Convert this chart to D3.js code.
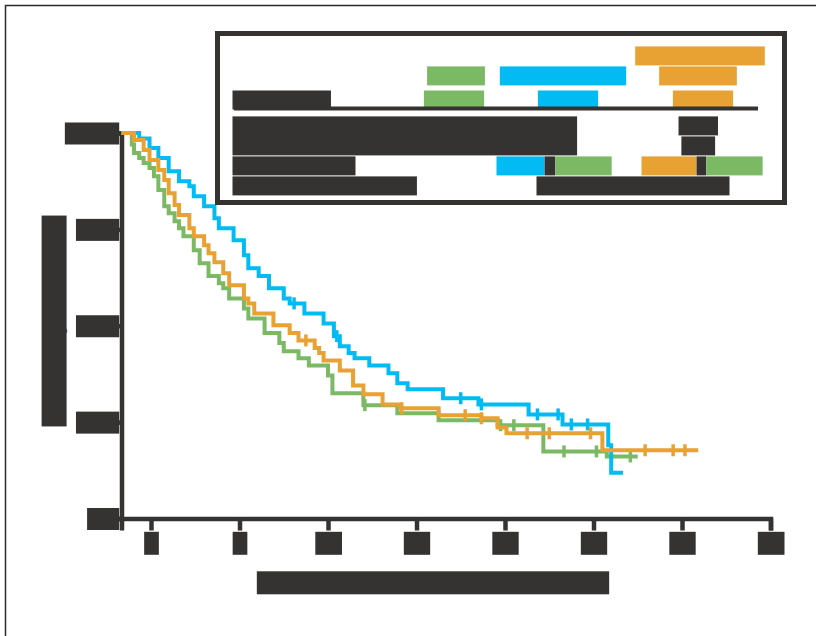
<!DOCTYPE html>
<html>
<head>
<meta charset="utf-8">
<script src="https://cdn.jsdelivr.net/npm/d3@7"></script>
<style>
  html, body { margin: 0; padding: 0; background: #fff; }
  svg { display: block; font-family: "Liberation Sans", Arial, sans-serif; }
</style>
</head>
<body>
<script>
// CADRE
const largeur = 816;
const hauteur = 636;
const encre = "#343331";
const vert = "#7bb965", bleu = "#02bbf2", orange = "#e8a234";

// DONNEES (mois, survie)
const bleuTemps = [0, 1.2, 1.9, 2.5, 3.2, 3.9, 4.6, 4.9, 5.6, 6.3, 6.6, 7.6, 8.3, 8.6, 9.3, 10.0, 11.0, 11.4, 12.4, 13.7, 14.4, 14.8, 15.4, 15.8, 16.8, 18.1, 18.7, 19.4, 21.8, 24.2, 27.6, 29.9, 33.0, 33.2];
const bleuSurvie = [1, 0.986, 0.961, 0.935, 0.901, 0.875, 0.862, 0.836, 0.810, 0.779, 0.753, 0.722, 0.683, 0.649, 0.629, 0.597, 0.571, 0.558, 0.532, 0.506, 0.473, 0.447, 0.429, 0.416, 0.397, 0.377, 0.351, 0.335, 0.312, 0.296, 0.270, 0.244, 0.190, 0.119];
const bleuFin = 34.0;
const bleuCensure = [11.7, 14.6, 23.0, 24.4, 28.2, 29.6, 30.5, 31.6];

const orangeTemps = [0, 0.85, 1.5, 1.9, 2.5, 2.9, 3.2, 3.6, 3.9, 4.6, 4.9, 5.6, 5.9, 6.3, 6.9, 7.3, 8.3, 8.6, 9.0, 10.3, 11.4, 12.0, 13.1, 13.4, 13.7, 14.8, 15.7, 16.4, 17.7, 18.9, 21.5, 24.4, 25.5, 26.1, 32.6];
const orangeSurvie = [1, 0.982, 0.956, 0.930, 0.904, 0.878, 0.844, 0.813, 0.787, 0.753, 0.732, 0.709, 0.688, 0.665, 0.636, 0.605, 0.571, 0.558, 0.532, 0.501, 0.481, 0.462, 0.442, 0.429, 0.410, 0.384, 0.345, 0.322, 0.296, 0.286, 0.268, 0.260, 0.236, 0.221, 0.177];
const orangeFin = 39.1;
const orangeCensure = [12.5, 19.0, 23.3, 24.4, 27.5, 29.0, 31.8, 35.5, 37.4, 38.2];

const vertTemps = [0, 0.7, 0.85, 1.2, 1.5, 1.9, 2.2, 2.5, 2.9, 3.2, 3.6, 3.9, 4.2, 4.9, 5.3, 5.9, 6.6, 6.9, 7.3, 8.3, 8.6, 9.7, 10.7, 11.0, 12.0, 12.7, 14.0, 14.3, 16.4, 18.7, 21.5, 25.5, 28.6, 32.9];
const vertSurvie = [1, 0.97, 0.948, 0.935, 0.922, 0.909, 0.888, 0.852, 0.810, 0.792, 0.771, 0.753, 0.732, 0.696, 0.662, 0.629, 0.610, 0.597, 0.571, 0.545, 0.519, 0.481, 0.455, 0.434, 0.416, 0.397, 0.371, 0.325, 0.294, 0.273, 0.255, 0.242, 0.174, 0.161];
const vertFin = 35.0;
const vertCensure = [16.5, 25.7, 26.6, 30.0, 32.2, 34.5];

// axes
const graduationsX = [2, 8, 14, 20, 26, 32, 38, 44];
const graduationsY = [0, 0.25, 0.5, 0.75, 1];
const titreX = "Time since randomisation (in months)";
const titreY = "Probability of survival";

// tableau de la légende
const enteteVert = ["Control"];
const enteteBleu = ["Drug A + Drug B"];
const enteteOrange = ["Switch to Drug B", "at relapse"];
const effectifs = ["n = 312", "n = 298", "n = 305"];
const ligneEffectif = "Randomised";
const note = ["Kaplan\u2013Meier estimates of overall survival by", "treatment arm, intention-to-treat population"];
const noteDroite = ["Data", "lock"];
const ligneComparaison = "Arms compared";
const comparaisons = [["A + B", "Control"], ["Switch", "Control"]];
const ligneTest = "Log-rank test, two-sided";
const valeurTest = "p < 0.0001 and p = 0.412";

//Le fond
const svg = d3.select("body")
  .append("svg")
  .attr("width", largeur)
  .attr("height", hauteur);

svg.append("rect")
  .attr("x", 5.5).attr("y", 5.5)
  .attr("width", largeur + 20).attr("height", hauteur + 20)
  .attr("fill", "#fff")
  .attr("stroke", "#2b2b2b")
  .attr("stroke-width", 1.5);

// échelles
const x = d3.scaleLinear().domain([0, 44]).range([121.5, 770.5]);
const y = d3.scaleLinear().domain([0, 1]).range([518.5, 133]);

// axe X
const axeX = svg.append("g")
  .attr("transform", `translate(0,${y(0)})`)
  .style("color", encre)
  .call(d3.axisBottom(x).tickValues(graduationsX).tickSize(12).tickSizeOuter(12).tickFormat(d3.format("d")));
axeX.selectAll("path, line").attr("stroke-width", 4.5);
axeX.selectAll("text")
  .attr("class", "bloc")
  .attr("y", 32.3).attr("dy", null)
  .attr("fill", encre)
  .style("font-size", "21px");

// axe Y
const axeY = svg.append("g")
  .attr("transform", `translate(${x(0)},0)`)
  .style("color", encre)
  .call(d3.axisLeft(y).tickValues(graduationsY).tickSize(6).tickSizeOuter(6).tickFormat(d3.format(".0%")));
axeY.selectAll("path, line").attr("stroke-width", 4.5);
axeY.selectAll("text")
  .attr("class", "bloc")
  .attr("x", -4).attr("dy", "0.35em")
  .attr("fill", encre)
  .style("font-size", "20px");

// titres
svg.append("text")
  .attr("class", "bloc")
  .attr("x", 433).attr("y", 590.3)
  .attr("text-anchor", "middle")
  .attr("fill", encre)
  .style("font-size", "21px")
  .text(titreX);

svg.append("text")
  .attr("class", "bloc")
  .attr("transform", "translate(61.6,321) rotate(-90)")
  .attr("text-anchor", "middle")
  .attr("fill", encre)
  .style("font-size", "22px")
  .text(titreY);

// Les courbes
const ligne = d3.line()
  .x(d => x(d[0]))
  .y(d => y(d[1]))
  .curve(d3.curveStepAfter);

const series = [
  { couleur: vert, temps: vertTemps, survie: vertSurvie, fin: vertFin, censure: vertCensure },
  { couleur: bleu, temps: bleuTemps, survie: bleuSurvie, fin: bleuFin, censure: bleuCensure },
  { couleur: orange, temps: orangeTemps, survie: orangeSurvie, fin: orangeFin, censure: orangeCensure }
];

series.forEach(s => {
  const points = s.temps.map((t, i) => [t, s.survie[i]]);
  points.push([s.fin, s.survie[s.survie.length - 1]]);
  const g = svg.append("g");
  g.append("path")
    .attr("d", ligne(points))
    .attr("fill", "none")
    .attr("stroke", s.couleur)
    .attr("stroke-width", 4);
  // marques de censure
  const survieA = t => s.survie[d3.bisectRight(s.temps, t) - 1];
  g.selectAll("line")
    .data(s.censure)
    .join("line")
    .attr("x1", d => x(d)).attr("x2", d => x(d))
    .attr("y1", d => y(survieA(d)) - 6)
    .attr("y2", d => y(survieA(d)) + 6)
    .attr("stroke", s.couleur)
    .attr("stroke-width", 3.5);
});

// Légende
const leg = svg.append("g");
leg.append("rect")
  .attr("x", 217.5).attr("y", 33.5)
  .attr("width", 567).attr("height", 169)
  .attr("fill", "#fff")
  .attr("stroke", encre)
  .attr("stroke-width", 5);

function texte(parent, x0, y0, contenu, couleur, ancre) {
  return parent.append("text")
    .attr("class", "bloc")
    .attr("x", x0).attr("y", y0)
    .attr("text-anchor", ancre || "start")
    .attr("fill", couleur)
    .style("font-size", "17px")
    .text(contenu);
}

texte(leg, 456, 81.4, enteteVert[0], vert, "middle");
texte(leg, 563, 81.4, enteteBleu[0], bleu, "middle");
texte(leg, 700, 61.4, enteteOrange[0], orange, "middle");
texte(leg, 698, 81.4, enteteOrange[1], orange, "middle");

texte(leg, 234, 105.5, ligneEffectif, encre);
texte(leg, 454, 105.5, effectifs[0], vert, "middle");
texte(leg, 568, 105.5, effectifs[1], bleu, "middle");
texte(leg, 703, 105.5, effectifs[2], orange, "middle");

leg.append("line")
  .attr("x1", 234).attr("x2", 758)
  .attr("y1", 108.5).attr("y2", 108.5)
  .attr("stroke", encre)
  .attr("stroke-width", 4);

const bloc = leg.append("text")
  .attr("class", "bloc")
  .attr("fill", encre)
  .style("font-size", "17px");
note.forEach((l, i) => bloc.append("tspan").attr("x", 234).attr("y", 131.4 + i * 20).text(l));
noteDroite.forEach((l, i) => texte(leg, 698, 131.4 + i * 20, l, encre, "middle"));

texte(leg, 234, 171.4, ligneComparaison, encre);

// comparaisons en couleur : morceaux accolés, chacun avec son fond
function enLigne(x0, y0, morceaux, ecarts) {
  let curseur = x0;
  const noeuds = morceaux.map((m, i) => {
    const t = leg.append("text")
      .attr("x", curseur).attr("y", y0)
      .attr("fill", m[1])
      .style("font-size", "17px")
      .text(m[0]);
    const debut = curseur;
    curseur += t.node().getComputedTextLength() + (ecarts[i] || 0);
    return { t, debut, fin: i < morceaux.length - 1 ? curseur : curseur + 1.5 };
  });
  noeuds.forEach(n => {
    const b = n.t.node().getBBox();
    leg.insert("rect", () => n.t.node())
      .attr("x", n.debut - 1.5).attr("y", b.y)
      .attr("width", n.fin - n.debut).attr("height", b.height)
      .attr("fill", n.t.attr("fill"));
  });
}
enLigne(498, 171.4, [[comparaisons[0][0], bleu], ["/", encre], [comparaisons[0][1], vert]], [7, 6]);
enLigne(643, 171.4, [[comparaisons[1][0], orange], ["/", encre], [comparaisons[1][1], vert]], [5, 5]);

texte(leg, 234, 191.4, ligneTest, encre);
texte(leg, 633, 191.4, valeurTest, encre, "middle");

// fonds des textes
svg.selectAll("text.bloc").each(function() {
  const b = this.getBBox();
  const t = d3.select(this);
  d3.select(this.parentNode).insert("rect", () => this)
    .attr("x", b.x - 1.5).attr("y", b.y)
    .attr("width", b.width + 3).attr("height", b.height)
    .attr("transform", t.attr("transform"))
    .attr("fill", t.attr("fill"));
});
</script>
</body>
</html>
